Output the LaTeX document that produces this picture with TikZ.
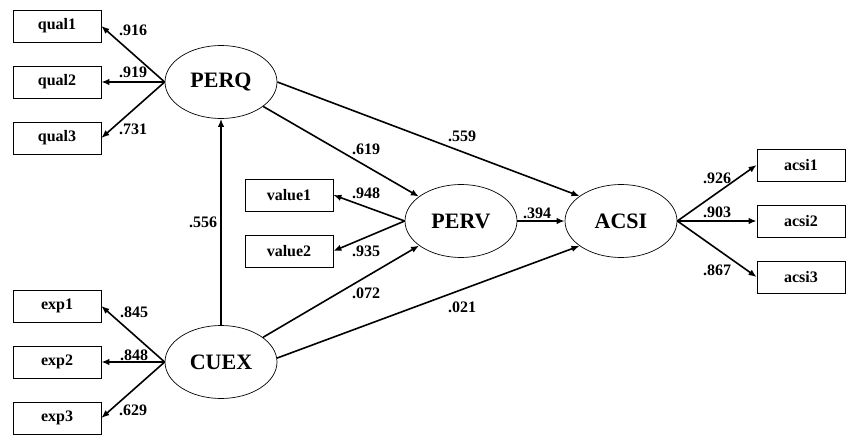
\documentclass[tikz,border=0pt]{standalone}
\usepackage{fontspec}
\setmainfont{Liberation Serif}
\usetikzlibrary{shapes.geometric,arrows.meta}
\begin{document}
\begin{tikzpicture}[x=1pt,y=-1pt,
  obs/.style={draw,rectangle,line width=0.8pt,minimum width=88pt,minimum height=32pt,inner sep=0pt,font=\bfseries\fontsize{16}{16}\selectfont},
  lat/.style={draw,ellipse,line width=0.7pt,minimum width=112pt,minimum height=73pt,inner sep=0pt,font=\bfseries\fontsize{22}{22}\selectfont},
  conn/.style={line width=1.6pt,-{Latex[length=8pt,width=6.5pt]}},
  lbl/.style={font=\bfseries\fontsize{16}{16}\selectfont,inner sep=0pt}]
\useasboundingbox (0,0) rectangle (846,436);
% latent variables
\node[lat] (perq) at (221,82) {PERQ};
\node[lat] (cuex) at (221,362) {CUEX};
\node[lat] (perv) at (461,221) {PERV};
\node[lat] (acsi) at (621,221) {ACSI};
% observed variables
\node[obs] (q1) at (57,26) {qual1};
\node[obs] (q2) at (57,82) {qual2};
\node[obs] (q3) at (57,138) {qual3};
\node[obs] (e1) at (57,306) {exp1};
\node[obs] (e2) at (57,362) {exp2};
\node[obs] (e3) at (57,418) {exp3};
\node[obs] (v1) at (289,195) {value1};
\node[obs] (v2) at (289,251) {value2};
\node[obs] (a1) at (801,165) {acsi1};
\node[obs] (a2) at (801,221) {acsi2};
\node[obs] (a3) at (801,277) {acsi3};
% measurement arrows
\draw[conn] (perq.west) -- (q1.east);
\draw[conn] (perq.west) -- (q2.east);
\draw[conn] (perq.west) -- (q3.east);
\draw[conn] (cuex.west) -- (e1.east);
\draw[conn] (cuex.west) -- (e2.east);
\draw[conn] (cuex.west) -- (e3.east);
\draw[conn] (perv.west) -- (v1.east);
\draw[conn] (perv.west) -- (v2.east);
\draw[conn] (acsi.east) -- (a1.west);
\draw[conn] (acsi.east) -- (a2.west);
\draw[conn] (acsi.east) -- (a3.west);
% structural arrows
\draw[conn] (cuex.north) -- (perq.south);
\draw[conn] (perq) -- (perv);
\draw[conn] (perq.east) -- (acsi.149);
\draw[conn] (cuex) -- (perv);
\draw[conn] (cuex.4) -- (acsi.211);
\draw[conn] (perv.east) -- (acsi.west);
% labels
\node[lbl] (l1) at (133,30) {.916};
\node[lbl] (l2) at (133,72) {.919};
\node[lbl] (l3) at (133,129) {.731};
\node[lbl] (l4) at (134,312) {.845};
\node[lbl] (l5) at (134,355) {.848};
\node[lbl] (l6) at (133,410) {.629};
\node[lbl] (l7) at (203,222) {.556};
\node[lbl] (l8) at (366,149) {.619};
\node[lbl] (l9) at (462,136) {.559};
\node[lbl] (l10) at (366,193) {.948};
\node[lbl] (l11) at (366,251) {.935};
\node[lbl] (l12) at (537,213) {.394};
\node[lbl] (l13) at (366,293) {.072};
\node[lbl] (l14) at (462,307) {.021};
\node[lbl] (l15) at (717,178) {.926};
\node[lbl] (l16) at (717,212) {.903};
\node[lbl] (l17) at (717,270) {.867};
\end{tikzpicture}
\end{document}
